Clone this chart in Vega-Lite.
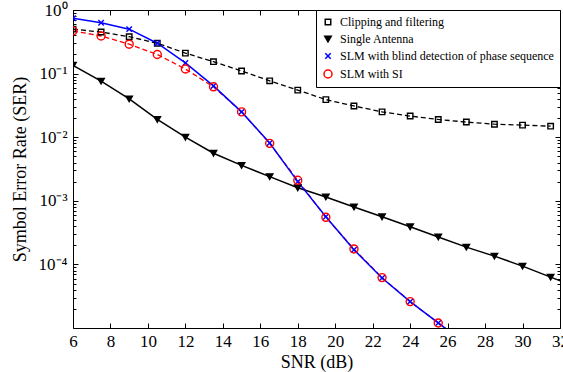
{
  "$schema": "https://vega.github.io/schema/vega-lite/v6.json",
  "width": 487,
  "height": 318,
  "autosize": "none",
  "padding": {"left": 73, "top": 10, "right": 3, "bottom": 44},
  "background": "white",
  "config": {
    "view": {"stroke": "black", "strokeWidth": 1},
    "font": "Liberation Serif",
    "axis": {"grid": false, "domain": false, "tickColor": "black", "labelColor": "black", "titleColor": "black", "labelFont": "Liberation Serif", "titleFont": "Liberation Serif", "labelFontSize": 17, "titleFontSize": 18, "titleFontWeight": "normal", "labelFlush": false, "labelOverlap": false},
    "legend": {"strokeColor": "black", "fillColor": "white", "padding": 6, "labelFont": "Liberation Serif", "labelFontSize": 12, "labelColor": "black", "rowPadding": 5, "symbolStrokeWidth": 1.5, "labelOffset": 6, "labelLimit": 400}
  },
  "data": {"values": [
    {"s": "Clipping and filtering", "x": 6, "y": 0.50},
    {"s": "Clipping and filtering", "x": 7.5, "y": 0.45},
    {"s": "Clipping and filtering", "x": 9, "y": 0.38},
    {"s": "Clipping and filtering", "x": 10.5, "y": 0.30},
    {"s": "Clipping and filtering", "x": 12, "y": 0.21},
    {"s": "Clipping and filtering", "x": 13.5, "y": 0.154},
    {"s": "Clipping and filtering", "x": 15, "y": 0.11},
    {"s": "Clipping and filtering", "x": 16.5, "y": 0.077},
    {"s": "Clipping and filtering", "x": 18, "y": 0.055},
    {"s": "Clipping and filtering", "x": 19.5, "y": 0.039},
    {"s": "Clipping and filtering", "x": 21, "y": 0.031},
    {"s": "Clipping and filtering", "x": 22.5, "y": 0.025},
    {"s": "Clipping and filtering", "x": 24, "y": 0.0215},
    {"s": "Clipping and filtering", "x": 25.5, "y": 0.019},
    {"s": "Clipping and filtering", "x": 27, "y": 0.0173},
    {"s": "Clipping and filtering", "x": 28.5, "y": 0.016},
    {"s": "Clipping and filtering", "x": 30, "y": 0.0155},
    {"s": "Clipping and filtering", "x": 31.5, "y": 0.0149},
    {"s": "Single Antenna", "x": 6, "y": 0.135},
    {"s": "Single Antenna", "x": 7.5, "y": 0.076},
    {"s": "Single Antenna", "x": 9, "y": 0.040},
    {"s": "Single Antenna", "x": 10.5, "y": 0.019},
    {"s": "Single Antenna", "x": 12, "y": 0.010},
    {"s": "Single Antenna", "x": 13.5, "y": 0.0056},
    {"s": "Single Antenna", "x": 15, "y": 0.0036},
    {"s": "Single Antenna", "x": 16.5, "y": 0.0024},
    {"s": "Single Antenna", "x": 18, "y": 0.0016},
    {"s": "Single Antenna", "x": 19.5, "y": 0.00115},
    {"s": "Single Antenna", "x": 21, "y": 0.0008},
    {"s": "Single Antenna", "x": 22.5, "y": 0.00056},
    {"s": "Single Antenna", "x": 24, "y": 0.00039},
    {"s": "Single Antenna", "x": 25.5, "y": 0.00027},
    {"s": "Single Antenna", "x": 27, "y": 0.000187},
    {"s": "Single Antenna", "x": 28.5, "y": 0.000135},
    {"s": "Single Antenna", "x": 30, "y": 0.000094},
    {"s": "Single Antenna", "x": 31.5, "y": 0.000063},
    {"s": "Single Antenna", "x": 33, "y": 0.000043},
    {"s": "SLM with blind detection of phase sequence", "x": 6, "y": 0.74},
    {"s": "SLM with blind detection of phase sequence", "x": 7.5, "y": 0.63},
    {"s": "SLM with blind detection of phase sequence", "x": 9, "y": 0.50},
    {"s": "SLM with blind detection of phase sequence", "x": 10.5, "y": 0.30},
    {"s": "SLM with blind detection of phase sequence", "x": 12, "y": 0.147},
    {"s": "SLM with blind detection of phase sequence", "x": 13.5, "y": 0.064},
    {"s": "SLM with blind detection of phase sequence", "x": 15, "y": 0.025},
    {"s": "SLM with blind detection of phase sequence", "x": 16.5, "y": 0.0081},
    {"s": "SLM with blind detection of phase sequence", "x": 18, "y": 0.0020},
    {"s": "SLM with blind detection of phase sequence", "x": 19.5, "y": 0.00056},
    {"s": "SLM with blind detection of phase sequence", "x": 21, "y": 0.00017},
    {"s": "SLM with blind detection of phase sequence", "x": 22.5, "y": 0.000061},
    {"s": "SLM with blind detection of phase sequence", "x": 24, "y": 0.000026},
    {"s": "SLM with blind detection of phase sequence", "x": 25.5, "y": 0.000012},
    {"s": "SLM with blind detection of phase sequence", "x": 27, "y": 0.0000056},
    {"s": "SLM with SI", "x": 6, "y": 0.47},
    {"s": "SLM with SI", "x": 7.5, "y": 0.39},
    {"s": "SLM with SI", "x": 9, "y": 0.29},
    {"s": "SLM with SI", "x": 10.5, "y": 0.20},
    {"s": "SLM with SI", "x": 12, "y": 0.118},
    {"s": "SLM with SI", "x": 13.5, "y": 0.062},
    {"s": "SLM with SI", "x": 15, "y": 0.025},
    {"s": "SLM with SI", "x": 16.5, "y": 0.0080},
    {"s": "SLM with SI", "x": 18, "y": 0.0021},
    {"s": "SLM with SI", "x": 19.5, "y": 0.00055},
    {"s": "SLM with SI", "x": 21, "y": 0.000175},
    {"s": "SLM with SI", "x": 22.5, "y": 0.000062},
    {"s": "SLM with SI", "x": 24, "y": 0.000026},
    {"s": "SLM with SI", "x": 25.5, "y": 0.000012},
    {"s": "SLM with SI", "x": 27, "y": 0.0000056}
  ]},
  "resolve": {"axis": {"x": "independent", "y": "independent"}},
  "layer": [
    {
      "transform": [{"filter": "datum.s === 'Clipping and filtering' || datum.s === 'SLM with SI'"}],
      "mark": {"type": "line", "clip": true, "strokeWidth": 1.3, "strokeDash": [5, 3]},
      "encoding": {
        "x": {"field": "x", "type": "quantitative", "scale": {"domain": [6, 32], "nice": false, "zero": false},
          "axis": {"orient": "bottom", "values": [6, 8, 10, 12, 14, 16, 18, 20, 22, 24, 26, 28, 30, 32], "tickSize": -5, "labelPadding": 10, "title": "SNR (dB)", "titlePadding": 4}},
        "y": {"field": "y", "type": "quantitative", "scale": {"type": "log", "domain": [0.00001, 1], "nice": false},
          "axis": {"orient": "left", "values": [0.0001, 0.001, 0.01, 0.1, 1], "tickSize": -5, "labelPadding": 11, "title": "Symbol Error Rate (SER)", "titlePadding": 9,
            "labelExpr": "datum.value >= 0.5 ? '10⁰' : datum.value > 0.05 ? '10⁻¹' : datum.value > 0.005 ? '10⁻²' : datum.value > 0.0005 ? '10⁻³' : '10⁻⁴'"}},
        "color": {"field": "s", "type": "nominal", "scale": {"domain": ["Clipping and filtering", "Single Antenna", "SLM with blind detection of phase sequence", "SLM with SI"], "range": ["black", "black", "#0000ff", "#ff0000"]},
          "legend": {"orient": "top-right", "offset": 0, "title": null}}
      }
    },
    {
      "transform": [{"filter": "datum.s === 'Single Antenna' || datum.s === 'SLM with blind detection of phase sequence'"}],
      "mark": {"type": "line", "clip": true},
      "encoding": {
        "x": {"field": "x", "type": "quantitative", "axis": null},
        "y": {"field": "y", "type": "quantitative", "axis": null},
        "color": {"field": "s", "type": "nominal"},
        "strokeWidth": {"field": "s", "type": "nominal", "legend": null, "scale": {"domain": ["Clipping and filtering", "Single Antenna", "SLM with blind detection of phase sequence", "SLM with SI"], "range": [1.5, 1.5, 2, 1.5]}}
      }
    },
    {
      "mark": {"type": "point", "clip": true, "strokeWidth": 1.4, "opacity": 1},
      "encoding": {
        "x": {"field": "x", "type": "quantitative", "axis": null},
        "y": {"field": "y", "type": "quantitative", "axis": null},
        "color": {"field": "s", "type": "nominal"},
        "shape": {"field": "s", "type": "nominal", "legend": {"orient": "top-right", "offset": 0, "title": null}, "scale": {"domain": ["Clipping and filtering", "Single Antenna", "SLM with blind detection of phase sequence", "SLM with SI"], "range": ["square", "triangle-down", "M-0.75,-0.75L0.75,0.75M0.75,-0.75L-0.75,0.75", "circle"]}},
        "fill": {"field": "s", "type": "nominal", "legend": {"orient": "top-right", "offset": 0, "title": null}, "scale": {"domain": ["Clipping and filtering", "Single Antenna", "SLM with blind detection of phase sequence", "SLM with SI"], "range": ["transparent", "black", "transparent", "transparent"]}},
        "size": {"field": "s", "type": "nominal", "legend": {"orient": "top-right", "offset": 0, "title": null}, "scale": {"domain": ["Clipping and filtering", "Single Antenna", "SLM with blind detection of phase sequence", "SLM with SI"], "range": [30, 64, 40, 64]}}
      }
    },
    {
      "mark": {"type": "point", "opacity": 0},
      "encoding": {
        "x": {"field": "x", "type": "quantitative", "axis": {"orient": "top", "values": [6, 8, 10, 12, 14, 16, 18, 20, 22, 24, 26, 28, 30, 32], "tickSize": -5, "labels": false, "title": null}},
        "y": {"field": "y", "type": "quantitative", "axis": {"orient": "right", "values": [0.00001, 0.0001, 0.001, 0.01, 0.1, 1], "tickSize": -5, "labels": false, "title": null}}
      }
    },
    {
      "mark": {"type": "point", "opacity": 0},
      "encoding": {
        "x": {"field": "x", "type": "quantitative", "axis": null},
        "y": {"field": "y", "type": "quantitative", "axis": {"orient": "left", "tickSize": -3, "labels": false, "title": null,
          "values": [0.00002, 0.00003, 0.00004, 0.00005, 0.00006, 0.00007, 0.00008, 0.00009, 0.0002, 0.0003, 0.0004, 0.0005, 0.0006, 0.0007, 0.0008, 0.0009, 0.002, 0.003, 0.004, 0.005, 0.006, 0.007, 0.008, 0.009, 0.02, 0.03, 0.04, 0.05, 0.06, 0.07, 0.08, 0.09, 0.2, 0.3, 0.4, 0.5, 0.6, 0.7, 0.8, 0.9]}}
      }
    },
    {
      "mark": {"type": "point", "opacity": 0},
      "encoding": {
        "x": {"field": "x", "type": "quantitative", "axis": null},
        "y": {"field": "y", "type": "quantitative", "axis": {"orient": "right", "tickSize": -3, "labels": false, "title": null,
          "values": [0.00002, 0.00003, 0.00004, 0.00005, 0.00006, 0.00007, 0.00008, 0.00009, 0.0002, 0.0003, 0.0004, 0.0005, 0.0006, 0.0007, 0.0008, 0.0009, 0.002, 0.003, 0.004, 0.005, 0.006, 0.007, 0.008, 0.009, 0.02, 0.03, 0.04, 0.05, 0.06, 0.07, 0.08, 0.09, 0.2, 0.3, 0.4, 0.5, 0.6, 0.7, 0.8, 0.9]}}
      }
    }
  ]
}
